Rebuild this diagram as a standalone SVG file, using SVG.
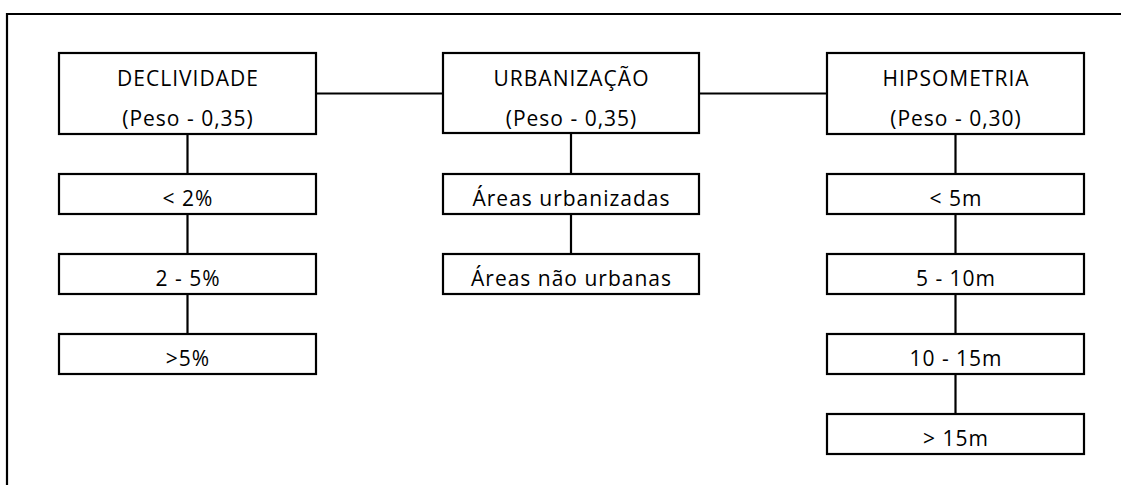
<svg xmlns="http://www.w3.org/2000/svg" width="1121" height="485" viewBox="0 0 1121 485">
<style>
.box{fill:#fff;stroke:#000;stroke-width:2.2}
.ln{stroke:#000;stroke-width:2.2;fill:none}
text{font-family:"Open Sans","Liberation Sans",sans-serif;font-size:21px;letter-spacing:1px;fill:#000;text-anchor:middle}
</style>
<rect width="1121" height="485" fill="#fff"/>
<g id="frame"><path class="ln" d="M7,485 V14 H1121"/></g>
<g id="connectors">
<path class="ln" d="M316,93.5 H443 M699,93.5 H827"/>
<path class="ln" d="M187.5,134 V174 M187.5,214 V254 M187.5,294 V334"/>
<path class="ln" d="M571,133 V174 M571,214 V254"/>
<path class="ln" d="M955.5,134 V174 M955.5,214 V254 M955.5,294 V334 M955.5,374 V414"/>
</g>
<g id="declividade"><rect class="box" x="59" y="53" width="257" height="81"/><text x="188" y="86">DECLIVIDADE</text><text x="188" y="126">(Peso - 0,35)</text></g>
<g id="d1"><rect class="box" x="59" y="174" width="257" height="40"/><text x="188" y="205.5">&lt; 2%</text></g>
<g id="d2"><rect class="box" x="59" y="254" width="257" height="40"/><text x="188" y="285.5">2 - 5%</text></g>
<g id="d3"><rect class="box" x="59" y="334" width="257" height="40"/><text x="188" y="365.5">&gt;5%</text></g>
<g id="urbanizacao"><rect class="box" x="443" y="53" width="256" height="80"/><text x="571.5" y="86">URBANIZAÇÃO</text><text x="571.5" y="126">(Peso - 0,35)</text></g>
<g id="u1"><rect class="box" x="443" y="174" width="256" height="40"/><text x="571.5" y="206">Áreas urbanizadas</text></g>
<g id="u2"><rect class="box" x="443" y="254" width="256" height="40"/><text x="571.5" y="286">Áreas não urbanas</text></g>
<g id="hipsometria"><rect class="box" x="827" y="53" width="257" height="81"/><text x="956" y="86">HIPSOMETRIA</text><text x="956" y="126">(Peso - 0,30)</text></g>
<g id="h1"><rect class="box" x="827" y="174" width="257" height="40"/><text x="956" y="205.5">&lt; 5m</text></g>
<g id="h2"><rect class="box" x="827" y="254" width="257" height="40"/><text x="956" y="285.5">5 - 10m</text></g>
<g id="h3"><rect class="box" x="827" y="334" width="257" height="40"/><text x="956" y="365.5">10 - 15m</text></g>
<g id="h4"><rect class="box" x="827" y="414" width="257" height="40"/><text x="956" y="445.5">&gt; 15m</text></g>
</svg>
